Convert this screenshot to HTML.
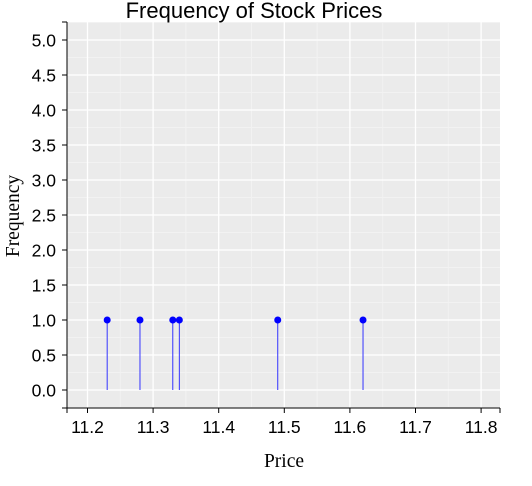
<!DOCTYPE html>
<html><head><meta charset="utf-8"><style>
body{margin:0;background:#fff;}
svg{display:block;font-family:"Liberation Sans",sans-serif;}
</style></head><body>
<svg width="532" height="486">
<g id="g"></g>
</svg>
<script>
const prices=[11.23,11.28,11.33,11.34,11.49,11.62];
const freqs=[1,1,1,1,1,1];
const xTicks=[11.2,11.3,11.4,11.5,11.6,11.7,11.8];
const yTicks=[0,0.5,1,1.5,2,2.5,3,3.5,4,4.5,5];
const L=67,R=500,T=22,B=408;
const xs=v=>87.5+(v-11.2)*656;
const ys=v=>390-v*70;
const g=document.getElementById('g');
const NS='http://www.w3.org/2000/svg';
function mk(t,a,p){const e=document.createElementNS(NS,t);for(const k in a)e.setAttribute(k,a[k]);(p||g).appendChild(e);return e;}
const bg=mk('rect',{x:L,y:T,width:R-L,height:B-T,fill:'#ebebeb'});


for(let i=0;i<xTicks.length;i++){const v=xTicks[i]-0.05;const x=xs(v);if(x>L&&x<R)mk('line',{x1:x,x2:x,y1:T,y2:B,stroke:'#f2f2f2','stroke-width':1});}
{const x=xs(11.85);if(x<R)mk('line',{x1:x,x2:x,y1:T,y2:B,stroke:'#f2f2f2'});}
for(let i=0;i<=11;i++){const y=ys(i*0.5-0.25);if(y>T&&y<B)mk('line',{x1:L,x2:R,y1:y,y2:y,stroke:'#f2f2f2'});}
xTicks.forEach(v=>mk('line',{x1:xs(v),x2:xs(v),y1:T,y2:B,stroke:'#fff','stroke-width':1.3}));
yTicks.forEach(v=>mk('line',{x1:L,x2:R,y1:ys(v),y2:ys(v),stroke:'#fff','stroke-width':1.3}));
mk('line',{x1:L,x2:L,y1:T,y2:B,stroke:'#000'});
mk('line',{x1:L-5,x2:R,y1:B,y2:B,stroke:'#000'});
[T,B].forEach(y=>mk('line',{x1:L-5,x2:L,y1:y,y2:y,stroke:'#000'}));
[L,R].forEach(x=>mk('line',{x1:x,x2:x,y1:B,y2:B+5,stroke:'#000'}));
yTicks.forEach(v=>{const y=ys(v);mk('line',{x1:L-5,x2:L,y1:y,y2:y,stroke:'#000'});
 const t=mk('text',{x:L-11,y:y+6.5,'text-anchor':'end','font-size':17.5,fill:'#000'});t.textContent=v.toFixed(1);
 
 });
xTicks.forEach(v=>{const x=xs(v);mk('line',{x1:x,x2:x,y1:B,y2:B+5,stroke:'#000'});
 const t=mk('text',{x:x,y:B+25,'text-anchor':'middle','font-size':17.5,fill:'#000'});t.textContent=v.toFixed(1);
 
 });
prices.forEach((p,i)=>{const x=xs(p);
 const l=mk('line',{x1:x,x2:x,y1:ys(0),y2:ys(freqs[i]),stroke:'#3333ff','stroke-width':1});
 
 
 const c=mk('circle',{cx:x,cy:ys(freqs[i]),r:3.5,fill:'#0000ff'});
 
 });
const title=mk('text',{x:254,y:18,'text-anchor':'middle','font-size':22,fill:'#000'});title.textContent='Frequency of Stock Prices';


const xt=mk('text',{x:284,y:467,'text-anchor':'middle','font-size':19.5,'font-family':'Liberation Serif,serif',fill:'#000'});xt.textContent='Price';


const yt=mk('text',{x:0,y:0,'text-anchor':'middle','font-size':19.5,'font-family':'Liberation Serif,serif',fill:'#000',transform:'translate(19,216) rotate(-90)'});yt.textContent='Frequency';


</script>
</body></html>
